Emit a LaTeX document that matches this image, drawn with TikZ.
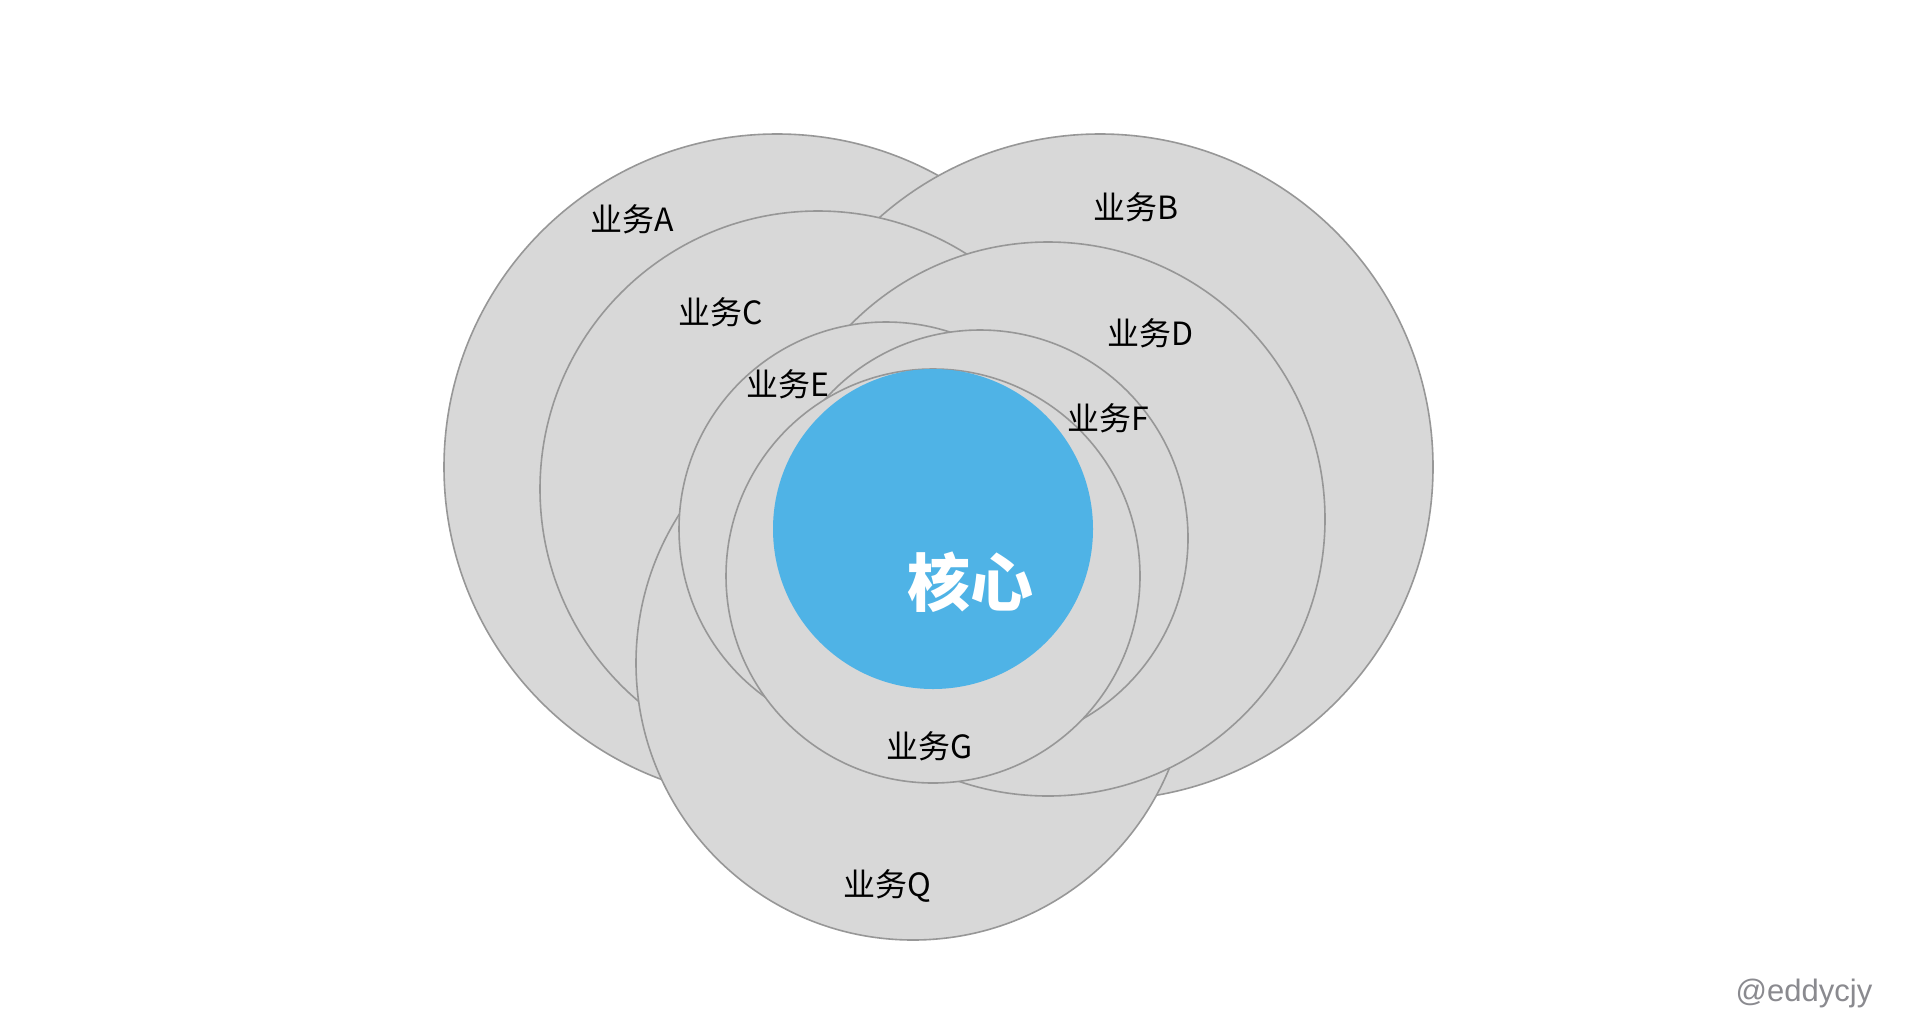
\documentclass[tikz,border=0pt]{standalone}
\usepackage{fontspec}
\setmainfont{Noto Sans CJK SC}
\newfontfamily\wmfont{Liberation Sans}
\definecolor{ringfill}{HTML}{D8D8D8}
\definecolor{ringline}{HTML}{979797}
\definecolor{coreblue}{HTML}{4FB3E6}
\definecolor{wmgray}{HTML}{8A8A8F}
\tikzset{
  ring/.style={circle, draw=ringline, fill=ringfill, line width=1.6pt, inner sep=0pt},
  lbl/.style={font=\fontsize{32}{36}\selectfont, text=black, inner sep=0pt},
  corelbl/.style={font=\fontsize{63}{70}\selectfont\bfseries, text=white, inner sep=0pt},
}
\begin{document}
\begin{tikzpicture}[x=1pt,y=-1pt]
\useasboundingbox (0,0) rectangle (1908,1034);
\fill[white] (0,0) rectangle (1908,1034);
\node[ring, minimum size=666pt] (A) at (777,467) {};
\node[ring, minimum size=666pt] (B) at (1100,467) {};
\node[ring, minimum size=556pt] (C) at (818,489) {};
\node[ring, minimum size=554pt] (Q) at (913,663) {};
\node[ring, minimum size=554pt] (D) at (1048,519) {};
\node[ring, minimum size=414pt] (E) at (886,529) {};
\node[ring, minimum size=416pt] (F) at (980,538) {};
\node[ring, minimum size=414pt] (G) at (933,576) {};
\node[circle, fill=coreblue, minimum size=320pt, inner sep=0pt] (core) at (933,529) {};
\node[lbl] (la) at (632,219) {业务A};
\node[lbl] (lb) at (1136,207) {业务B};
\node[lbl] (lc) at (721,312) {业务C};
\node[lbl] (ld) at (1150,333) {业务D};
\node[lbl] (le) at (788,384) {业务E};
\node[lbl] (lf) at (1108,418) {业务F};
\node[lbl] (lg) at (930,746) {业务G};
\node[lbl] (lq) at (887,886) {业务Q};
\node[corelbl] (lcore) at (970,582) {核心};
\node[font=\wmfont\fontsize{31}{34}\selectfont, text=wmgray, anchor=base, inner sep=0pt] (wm) at (1804,1001) {@eddycjy};
\end{tikzpicture}
\end{document}
